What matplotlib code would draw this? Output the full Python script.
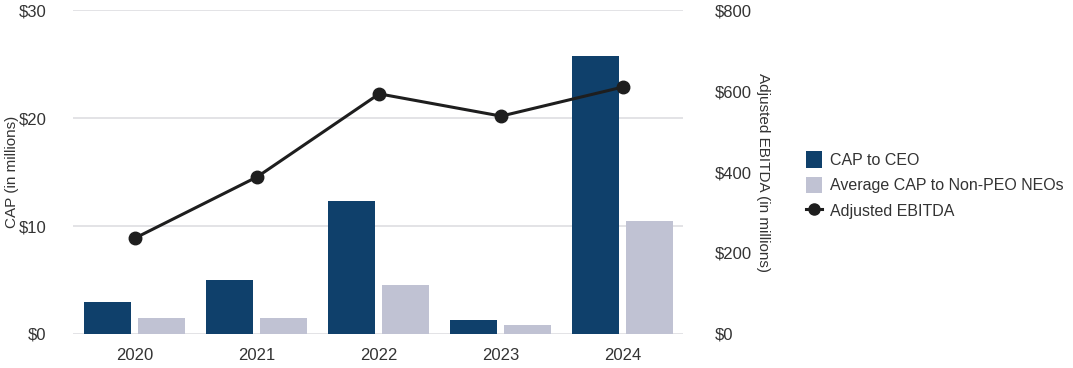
import matplotlib.pyplot as plt
import numpy as np
from matplotlib.lines import Line2D
from matplotlib.patches import Patch

plt.rcParams['font.family'] = ['Liberation Sans', 'DejaVu Sans']

years = ['2020', '2021', '2022', '2023', '2024']
cap_ceo = [3.0, 5.0, 12.3, 1.3, 25.7]
cap_neo = [1.5, 1.5, 4.5, 0.85, 10.5]
ebitda = [237, 388, 593, 538, 610]

col_ceo = '#0f406b'
col_neo = '#c0c2d3'
col_line = '#1e1e1e'
col_text = '#333333'

fig = plt.figure(figsize=(10.73, 3.68), dpi=100)
ax = fig.add_axes([0.068, 0.0924, 0.5685, 0.8804])
ax2 = ax.twinx()

x = np.arange(len(years))
w = 0.385
ax.bar(x - 0.225, cap_ceo, width=w, color=col_ceo, zorder=2)
ax.bar(x + 0.215, cap_neo, width=w, color=col_neo, zorder=2)

ax.set_xlim(-0.51, 4.49)
ax.set_ylim(0, 30)
ax.set_yticks([0, 10, 20, 30])
ax.set_yticklabels(['$0', '$10', '$20', '$30'])
ax.set_xticks(x)
ax.set_xticklabels(years)
ax.grid(axis='y', color='#e3e3e6', linewidth=1.4, zorder=0)
ax.set_axisbelow(True)
ax.tick_params(axis='both', length=0, labelsize=12, labelcolor=col_text)
ax.tick_params(axis='y', pad=19)
ax.tick_params(axis='x', pad=10)
ax.set_ylabel('CAP (in millions)', fontsize=11, color=col_text, labelpad=0)

ax2.plot(x, ebitda, color=col_line, linewidth=2.2, marker='o', markersize=9, zorder=3)
ax2.set_ylim(0, 800)
ax2.set_yticks([0, 200, 400, 600, 800])
ax2.set_yticklabels(['$0', '$200', '$400', '$600', '$800'])
ax2.tick_params(axis='y', length=0, labelsize=12, labelcolor=col_text, pad=23)
ax2.set_ylabel('Adjusted EBITDA (in millions)', fontsize=11, color=col_text,
               rotation=270, labelpad=13)

for a in (ax, ax2):
    for s in a.spines.values():
        s.set_visible(False)

handles = [
    Patch(facecolor=col_ceo, edgecolor='none', label='CAP to CEO'),
    Patch(facecolor=col_neo, edgecolor='none', label='Average CAP to Non-PEO NEOs'),
    Line2D([0], [0], color=col_line, linewidth=2.2, marker='o', markersize=8,
           label='Adjusted EBITDA'),
]
leg = fig.legend(handles=handles, loc='center left', bbox_to_anchor=(0.738, 0.497),
                 frameon=False, fontsize=11.5, handlelength=1.0, handleheight=1.2,
                 handletextpad=0.5, labelspacing=0.55)
for t in leg.get_texts():
    t.set_color(col_text)

fig.savefig('out.png', dpi=100, facecolor='white')
